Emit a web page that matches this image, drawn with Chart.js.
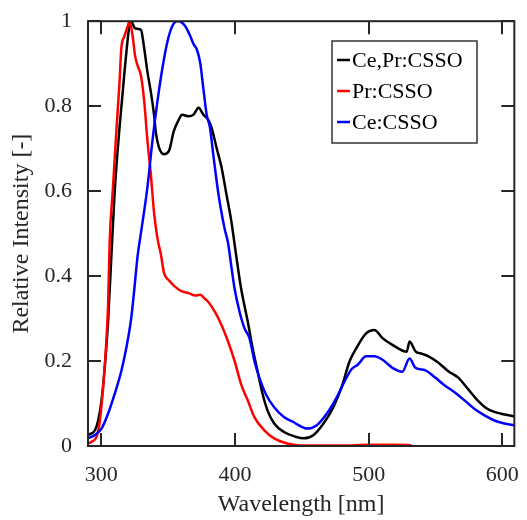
<!DOCTYPE html>
<html>
<head>
<meta charset="utf-8">
<script src="https://cdn.jsdelivr.net/npm/chart.js@4.4.1/dist/chart.umd.min.js"></script>
<style>
  body { margin: 0; background: #fff; }
  canvas { display: block; }
</style>
</head>
<body>
<canvas id="spectra" width="527" height="520"></canvas>
<script>
// --- DATOS ---

const xTicks = [300, 400, 500, 600];
const yTicks = [0, 0.2, 0.4, 0.6, 0.8, 1];

const seriesNames = ['Ce,Pr:CSSO', 'Pr:CSSO', 'Ce:CSSO'];

// Ce,Pr:CSSO
const ceprWl = [290, 295.2, 297.6, 300.1, 302.5, 305, 307.5, 310, 313.6, 317.3, 321, 322.3, 324.7, 327.1, 329.6, 332.1, 334.5, 337, 339.4, 340.7, 343.1, 346.8, 350.5, 354.2, 357.9, 360.3, 365.3, 369, 372.7, 376.3, 380, 382.5, 386.2, 389.9, 393.5, 397.2, 400.9, 404.6, 409.6, 413.2, 416.9, 420.6, 424.3, 429.3, 436.6, 445.2, 451.4, 458.8, 466.2, 473.5, 479.7, 485.8, 490.7, 498.1, 504.2, 510.4, 517.8, 526.4, 528.5, 530.6, 535, 540, 544.8, 552.2, 559.6, 567, 574.4, 581.7, 589.1, 599, 609];
const ceprVal = [0.026, 0.037, 0.06, 0.107, 0.184, 0.292, 0.448, 0.6, 0.75, 0.88, 0.99, 1.0, 0.985, 0.982, 0.98, 0.935, 0.88, 0.834, 0.78, 0.74, 0.703, 0.687, 0.694, 0.741, 0.768, 0.78, 0.776, 0.78, 0.796, 0.78, 0.768, 0.749, 0.702, 0.656, 0.594, 0.53, 0.448, 0.37, 0.292, 0.23, 0.176, 0.123, 0.084, 0.053, 0.033, 0.022, 0.018, 0.026, 0.053, 0.091, 0.138, 0.2, 0.23, 0.265, 0.273, 0.254, 0.238, 0.223, 0.222, 0.246, 0.223, 0.217, 0.211, 0.196, 0.176, 0.161, 0.134, 0.107, 0.087, 0.076, 0.07];

// Pr:CSSO
const prWl = [290, 292.7, 296.4, 298.9, 301.3, 303.1, 305, 306.2, 308.7, 311.2, 313.6, 314.9, 317.3, 319.7, 321, 323.4, 325.2, 327.1, 329.6, 332.1, 334.5, 337, 339.4, 341.9, 344.6, 346.8, 350.5, 355.5, 360.3, 365.3, 370.2, 373.9, 377.6, 380, 385, 389.9, 394.8, 399.7, 404.6, 409.6, 414.5, 421.9, 429.3, 439.1, 446.5, 460, 480, 500, 520, 532];
const prVal = [0.005, 0.01, 0.022, 0.06, 0.138, 0.215, 0.33, 0.48, 0.61, 0.74, 0.857, 0.935, 0.965, 0.988, 1.0, 0.965, 0.919, 0.896, 0.872, 0.81, 0.718, 0.64, 0.55, 0.49, 0.45, 0.408, 0.39, 0.374, 0.364, 0.36, 0.354, 0.356, 0.346, 0.339, 0.316, 0.285, 0.246, 0.2, 0.145, 0.107, 0.068, 0.037, 0.018, 0.006, 0.002, 0.001, 0.001, 0.003, 0.003, 0.002];

// Ce:CSSO
const ceWl = [290, 295.2, 300.1, 305, 309.9, 314.9, 318.6, 322.3, 324.7, 327.1, 329.6, 334.5, 338.2, 341.9, 345.6, 349.3, 353, 356.6, 357.9, 362.8, 366.5, 369, 371.4, 373.9, 376.3, 378.8, 381.3, 383.7, 386.2, 388.7, 392.4, 394.8, 397.2, 399.7, 403.4, 407.1, 410.8, 414.5, 418.2, 423.1, 429.3, 436.6, 444, 446.5, 453.8, 461.2, 468.6, 476, 482.1, 487, 492, 498.1, 504.2, 510.4, 517.8, 525.2, 530.6, 535, 542.4, 549.8, 557.2, 564.5, 571.9, 579.3, 586.7, 594.1, 601.5, 609];
const ceVal = [0.018, 0.026, 0.041, 0.076, 0.122, 0.176, 0.23, 0.3, 0.37, 0.447, 0.501, 0.61, 0.718, 0.81, 0.888, 0.95, 0.988, 1.0, 1.0, 0.988, 0.965, 0.946, 0.934, 0.903, 0.842, 0.78, 0.749, 0.687, 0.625, 0.571, 0.509, 0.478, 0.424, 0.37, 0.316, 0.277, 0.254, 0.2, 0.161, 0.122, 0.091, 0.068, 0.056, 0.051, 0.041, 0.049, 0.076, 0.114, 0.153, 0.18, 0.192, 0.211, 0.211, 0.203, 0.184, 0.175, 0.206, 0.184, 0.178, 0.161, 0.142, 0.126, 0.107, 0.087, 0.072, 0.06, 0.053, 0.049];

// --- UTILIDADES ---

const SERIF = "'Liberation Serif', 'Times New Roman', serif";
const toPoints = (xs, ys) => xs.map((x, i) => ({ x: x, y: ys[i] }));

// Marco con ticks hacia dentro en los cuatro lados (estilo MATLAB)
const frameTicks = {
    id: 'frameTicks',
    afterDatasetsDraw(chart) {
        const { ctx, chartArea: { left, right, top, bottom }, scales: { x, y } } = chart;
        const len = 13;
        ctx.save();
        ctx.strokeStyle = '#262626';
        ctx.lineWidth = 2;
        ctx.beginPath();
        x.ticks.forEach(t => {
            const px = Math.round(x.getPixelForValue(t.value));
            ctx.moveTo(px, bottom); ctx.lineTo(px, bottom - len);
            ctx.moveTo(px, top); ctx.lineTo(px, top + len);
        });
        y.ticks.forEach(t => {
            const py = Math.round(y.getPixelForValue(t.value));
            ctx.moveTo(left, py); ctx.lineTo(left + len, py);
            ctx.moveTo(right, py); ctx.lineTo(right - len, py);
        });
        ctx.stroke();
        ctx.strokeRect(left, top, right - left, bottom - top);
        ctx.restore();
    }
};

// Leyenda dentro del área del gráfico
const boxLegend = {
    id: 'boxLegend',
    afterDraw(chart) {
        const ctx = chart.ctx;
        const bx = 332, by = 41, bw = 145, bh = 102;
        ctx.save();
        ctx.fillStyle = '#fff';
        ctx.fillRect(bx, by, bw, bh);
        ctx.strokeStyle = '#333';
        ctx.lineWidth = 1.5;
        ctx.strokeRect(bx, by, bw, bh);
        ctx.font = `22px ${SERIF}`;
        ctx.textBaseline = 'middle';
        chart.data.datasets.forEach((ds, i) => {
            const ly = by + 19 + i * 31;
            ctx.strokeStyle = ds.borderColor;
            ctx.lineWidth = 2.5;
            ctx.beginPath();
            ctx.moveTo(bx + 5, ly);
            ctx.lineTo(bx + 18, ly);
            ctx.stroke();
            ctx.fillStyle = '#000';
            ctx.fillText(ds.label, bx + 20, ly + 1);
        });
        ctx.restore();
    }
};

// --- GRÁFICO ---

const colors = ['#000000', '#ff0000', '#0000ff'];
const seriesData = [toPoints(ceprWl, ceprVal), toPoints(prWl, prVal), toPoints(ceWl, ceVal)];

new Chart(document.getElementById('spectra'), {
    type: 'line',
    data: {
        datasets: seriesNames.map((name, i) => ({
            label: name,
            data: seriesData[i],
            borderColor: colors[i],
            borderWidth: 2.5,
            pointRadius: 0,
            fill: false,
            cubicInterpolationMode: 'monotone',
            order: 3 - i
        }))
    },
    options: {
        responsive: false,
        animation: false,
        devicePixelRatio: 1,
        layout: { padding: { left: 0, right: 7, top: 15, bottom: 0 } },
        plugins: { legend: { display: false }, tooltip: { enabled: false } },
        scales: {
            x: {
                type: 'linear',
                min: 290,
                max: 609,
                grid: { display: false },
                border: { display: false },
                afterBuildTicks: s => { s.ticks = xTicks.map(v => ({ value: v })); },
                afterFit: s => { s.height = 74; },
                ticks: { color: '#262626', padding: 8, font: { family: SERIF, size: 22 }, callback: v => String(v) },
                title: { display: true, text: 'Wavelength [nm]', color: '#262626', padding: { top: 0, bottom: 1 }, font: { family: SERIF, size: 24 } }
            },
            y: {
                min: 0,
                max: 1,
                grid: { display: false },
                border: { display: false },
                afterBuildTicks: s => { s.ticks = yTicks.map(v => ({ value: v })); },
                afterFit: s => { s.width = 88; },
                ticks: { color: '#262626', padding: 8, font: { family: SERIF, size: 22 }, callback: v => String(v) },
                title: { display: true, text: 'Relative Intensity [-]', color: '#262626', padding: { top: 7, bottom: 0 }, font: { family: SERIF, size: 24 } }
            }
        }
    },
    plugins: [frameTicks, boxLegend]
});
</script>
</body>
</html>
